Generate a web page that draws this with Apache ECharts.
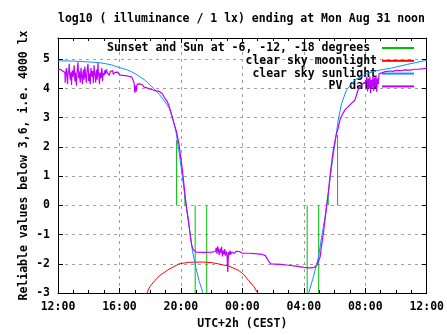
<!DOCTYPE html>
<html><head><meta charset="utf-8">
<script src="https://cdn.jsdelivr.net/npm/echarts@6/dist/echarts.min.js"></script>
<style>html,body{margin:0;padding:0;background:#fff}#c{width:447px;height:335px}</style>
</head><body><div id="c"></div>
<script>
const titleText = 'log10 ( illuminance / 1 lx) ending at Mon Aug 31 noon';
const xAxisName = 'UTC+2h (CEST)';
const yAxisName = 'Reliable values below 3,6, i.e. 4000 lx';
const seriesNames = ['Sunset and Sun at -6, -12, -18 degrees ', 'clear sky moonlight', 'clear sky sunlight', 'PV data'];
const xTickLabels = ['12:00', '16:00', '20:00', '00:00', '04:00', '08:00', '12:00'];
// hours after 12:00 noon
const sunEventHours = [7.72, 8.26, 8.93, 9.68, 16.22, 16.97, 17.59, 18.20];
const sunEventTops = [2.23, 0.34, -3, -3, -3, -3, 0.34, 2.41];

const moonlight = [[5.8,-3.0],[5.9,-2.86],[6.0,-2.77],[6.3,-2.58],[6.6,-2.41],[7.24,-2.18],[7.89,-2.0],[8.5,-1.95],
  [9.4,-1.94],[10.0,-1.96],[10.5,-2.01],[11.13,-2.08],[11.77,-2.23],[12.1,-2.37],[12.42,-2.58],[12.75,-2.78],[13.0,-3.0]];

const sunlight = [[0,4.95],[1,4.94],[2,4.91],[2.6,4.89],[3.0,4.86],[3.47,4.81],[4.0,4.72],[4.5,4.64],[4.77,4.58],
  [5.2,4.45],[5.63,4.3],[6.0,4.12],[6.27,3.98],[6.6,3.8],[6.92,3.58],[7.24,3.33],[7.45,3.0],[7.68,2.52],[7.89,1.79],
  [8.1,0.97],[8.32,0.07],[8.54,-0.75],[8.75,-1.55],[8.97,-2.12],[9.18,-2.58],[9.46,-3.03],[9.6,-3.4],[12.9,null],
  [16.2,-3.4],[16.3,-3.03],[16.62,-2.46],[16.95,-1.78],[17.16,-1.09],[17.38,-0.4],[17.59,0.4],[17.81,1.32],[18.03,2.12],
  [18.24,2.92],[18.46,3.49],[18.78,3.95],[19.32,4.3],[20.0,4.48],[20.6,4.6],[21.7,4.7],[22.77,4.83],[23.85,4.95],[24,4.96]];

const pvData = [
  [0.00,4.62],[0.05,4.66],[0.10,4.60],[0.15,4.66],[0.20,4.63],[0.25,4.64],[0.30,4.60],[0.35,4.65],[0.40,4.62],[0.45,4.55],
  [0.47,4.20],[0.50,4.55],[0.55,4.70],[0.58,4.45],[0.62,4.15],[0.65,4.50],[0.70,4.60],[0.73,4.85],[0.76,4.50],[0.80,4.30],
  [0.83,4.55],[0.88,4.12],[0.91,4.55],[0.95,4.62],[0.98,4.40],[1.02,4.55],[1.05,4.80],[1.08,4.50],[1.10,4.25],[1.13,4.55],
  [1.17,4.60],[1.20,4.10],[1.23,4.52],[1.27,4.55],[1.30,4.90],[1.33,4.55],[1.35,4.35],[1.38,4.58],[1.42,4.55],[1.45,4.20],
  [1.48,4.55],[1.50,4.70],[1.53,4.50],[1.57,4.45],[1.60,4.15],[1.63,4.55],[1.67,4.65],[1.70,4.30],[1.73,4.55],[1.75,4.75],
  [1.78,4.52],[1.82,4.50],[1.85,4.20],[1.88,4.55],[1.92,4.60],[1.95,4.85],[1.98,4.55],[2.00,4.25],[2.03,4.52],[2.07,4.55],
  [2.10,4.15],[2.13,4.55],[2.15,4.70],[2.18,4.50],[2.22,4.40],[2.25,4.60],[2.28,4.50],[2.30,4.18],[2.33,4.55],[2.35,4.80],
  [2.38,4.52],[2.42,4.45],[2.45,4.20],[2.48,4.55],[2.52,4.65],[2.55,4.30],[2.58,4.55],[2.60,4.88],[2.63,4.55],[2.67,4.40],
  [2.70,4.15],[2.73,4.55],[2.77,4.60],[2.80,4.35],[2.83,4.55],[2.85,4.70],[2.88,4.55],[2.90,4.25],[2.93,4.52],[2.97,4.55],
  [3.00,4.45],[3.05,4.62],[3.10,4.50],[3.15,4.66],[3.20,4.55],[3.30,4.60],[3.35,4.45],[3.40,4.58],[3.50,4.52],[3.55,4.62],
  [3.60,4.48],[3.70,4.55],[3.80,4.50],[3.90,4.56],[4.00,4.47],[4.10,4.52],[4.20,4.45],[4.30,4.50],[4.40,4.44],[4.50,4.47],
  [4.60,4.42],[4.70,4.44],[4.80,4.40],[4.90,4.38],[4.95,4.20],[5.00,3.86],[5.05,4.10],[5.10,3.90],[5.15,4.15],[5.20,4.12],
  [5.30,4.16],[5.40,4.10],[5.50,4.13],[5.60,4.05],[5.70,4.10],[5.80,4.02],[5.90,4.06],[6.00,3.98],[6.10,4.02],[6.20,3.95],
  [6.30,3.96],[6.40,3.92],[6.50,3.94],[6.60,3.90],[6.70,3.88],[6.80,3.82],[6.90,3.72],[7.00,3.66],[7.10,3.56],[7.20,3.45],
  [7.30,3.28],[7.40,3.10],[7.50,2.90],[7.60,2.72],[7.70,2.55],[7.80,2.30],[7.90,2.00],[8.00,1.60],[8.10,1.20],[8.20,0.70],
  [8.30,0.20],[8.40,-0.20],[8.50,-0.55],[8.60,-1.00],[8.70,-1.35],[8.80,-1.52],[8.90,-1.58],[9.00,-1.60],[9.50,-1.61],
  [10.00,-1.60],[10.25,-1.58],[10.30,-1.45],[10.35,-1.65],[10.40,-1.40],[10.45,-1.55],[10.50,-1.70],[10.55,-1.48],
  [10.60,-1.62],[10.65,-1.42],[10.70,-1.75],[10.75,-1.55],[10.80,-1.68],[10.85,-1.50],[10.90,-1.72],[10.95,-1.58],
  [11.00,-1.66],[11.05,-2.28],[11.10,-1.60],[11.15,-1.70],[11.20,-1.55],[11.25,-1.68],[11.30,-1.60],[11.35,-1.66],
  [11.40,-1.58],[11.50,-1.64],[11.60,-1.57],[11.70,-1.62],[11.80,-1.58],[11.90,-1.62],[12.00,-1.64],[12.50,-1.64],
  [13.00,-1.66],[13.30,-1.68],[13.50,-1.72],[13.70,-1.90],[13.85,-2.00],[14.50,-2.02],[15.00,-2.05],[15.50,-2.08],
  [16.00,-2.12],[16.40,-2.14],[16.70,-2.12],[16.85,-2.05],[16.95,-1.90],[17.06,-1.78],[17.15,-1.40],[17.27,-0.97],
  [17.38,-0.50],[17.48,-0.06],[17.60,0.45],[17.70,0.97],[17.81,1.45],[17.92,1.89],[18.03,2.20],[18.13,2.46],[18.24,2.65],
  [18.35,2.92],[18.50,3.10],[18.67,3.26],[18.89,3.38],[19.10,3.49],[19.32,3.60],[19.53,3.95],[19.80,4.15],[20.05,4.25],
  [20.10,4.40],[20.15,3.90],[20.20,4.35],[20.25,4.00],[20.30,4.42],[20.35,3.85],[20.40,4.30],[20.45,4.05],[20.50,4.42],
  [20.55,3.92],[20.60,4.38],[20.65,4.05],[20.70,4.45],[20.75,3.88],[20.80,4.35],[20.85,4.15],[20.90,4.50],[21.00,4.55],
  [21.30,4.58],[21.60,4.60],[21.80,4.59],[22.00,4.62],[22.30,4.61],[22.60,4.64],[22.90,4.63],[23.20,4.66],[23.50,4.66],
  [23.80,4.68],[24.00,4.70]];

const sunLines = [];
sunEventHours.forEach((h, i) => { sunLines.push([h, 0], [h, sunEventTops[i]], [h, null]); });

const FONT = {fontFamily: 'DejaVu Sans Mono', fontWeight: 'bold', fontSize: 11.5, color: '#000'};
const chart = echarts.init(document.getElementById('c'), null, {renderer: 'canvas'});
const gridDash = {show: true, lineStyle: {color: '#a0a0a0', type: [3, 4], width: 1}};
const borderLine = () => ({show: true, onZero: false, lineStyle: {color: '#000', width: 1}});
const tick = () => ({show: true, inside: true, length: 5, lineStyle: {color: '#000'}});
const minor = () => ({show: true, splitNumber: 4, length: 3, lineStyle: {color: '#000'}});
chart.setOption({
  animation: false,
  backgroundColor: '#fff',
  title: {text: titleText, left: 58, top: 13, padding: 0, textStyle: FONT},
  legend: {
    orient: 'vertical', align: 'right', right: 32, top: 42, padding: 0,
    itemWidth: 32, itemHeight: 12, itemGap: 0.8, textStyle: FONT,
    itemStyle: {opacity: 0},
    data: seriesNames
  },
  grid: {left: 58, top: 38, width: 371, height: 255, containLabel: false},
  xAxis: [{
    type: 'value', min: 0, max: 24, interval: 4, position: 'bottom',
    name: xAxisName, nameLocation: 'middle', nameGap: 25, nameMoveOverlap: false, nameTextStyle: FONT,
    axisLine: borderLine(), axisTick: tick(), minorTick: minor(),
    axisLabel: Object.assign({margin: 8, formatter: v => xTickLabels[Math.round(v / 4)]}, FONT),
    splitLine: gridDash
  }, {
    type: 'value', min: 0, max: 24, interval: 4, position: 'top',
    axisLine: borderLine(), axisTick: tick(), minorTick: minor(),
    axisLabel: {show: false}, splitLine: {show: false}
  }],
  yAxis: [{
    type: 'value', min: -3, max: 5.73, interval: 1, position: 'left',
    name: yAxisName, nameLocation: 'middle', nameGap: 28, nameMoveOverlap: false, nameTextStyle: FONT,
    axisLine: borderLine(), axisTick: tick(),
    axisLabel: Object.assign({margin: 8, formatter: v => (Math.abs(v - Math.round(v)) < 1e-6 ? String(Math.round(v)) : '')}, FONT),
    splitLine: gridDash
  }, {
    type: 'value', min: -3, max: 5.73, interval: 1, position: 'right',
    axisLine: borderLine(), axisTick: tick(),
    axisLabel: {show: false}, splitLine: {show: false}
  }],
  series: [
    {name: seriesNames[0], type: 'line', data: sunLines, symbol: 'none', connectNulls: false,
     lineStyle: {color: '#00c000', width: 1}, itemStyle: {color: '#00c000'}, z: 2},
    {name: seriesNames[1], type: 'line', data: moonlight, symbol: 'none',
     lineStyle: {color: '#ff0000', width: 1}, itemStyle: {color: '#ff0000'}, z: 3},
    {name: seriesNames[2], type: 'line', data: sunlight, symbol: 'none', connectNulls: false,
     lineStyle: {color: '#1090ff', width: 1}, itemStyle: {color: '#1090ff'}, z: 4},
    {name: seriesNames[3], type: 'line', data: pvData, symbol: 'none',
     lineStyle: {color: '#c000ff', width: 1.2}, itemStyle: {color: '#c000ff'}, z: 5}
  ]
});
</script></body></html>
